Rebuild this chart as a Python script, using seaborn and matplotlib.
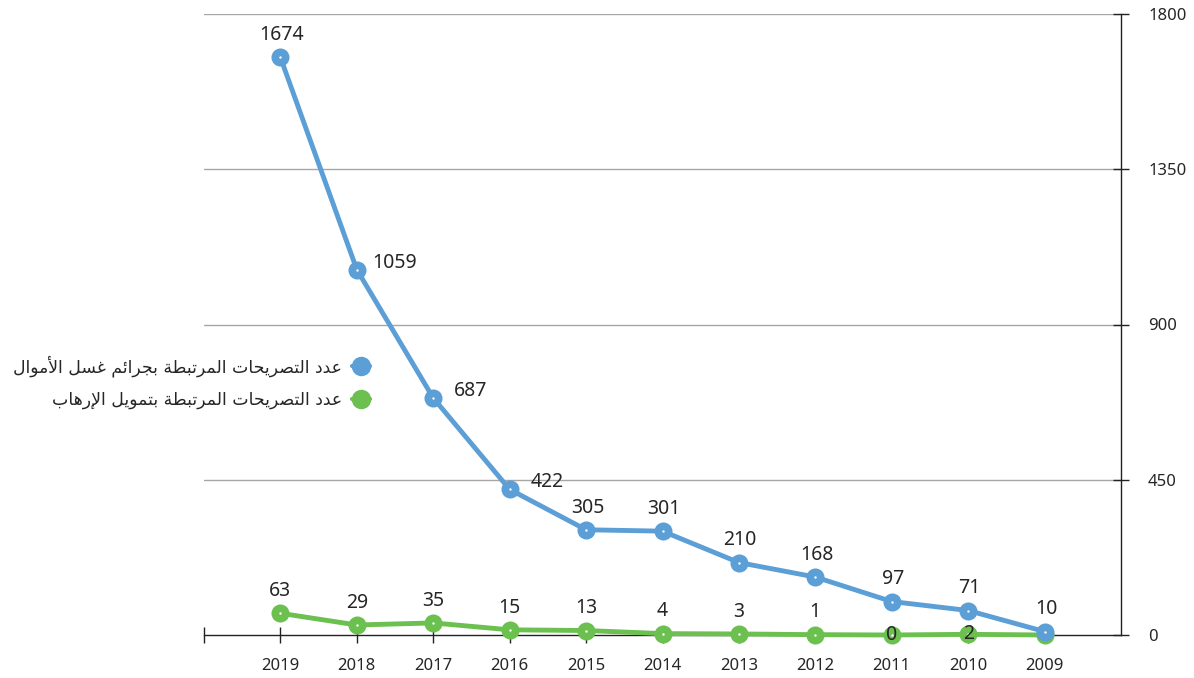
import matplotlib
matplotlib.use("Agg")
import matplotlib.pyplot as plt
from matplotlib.lines import Line2D
import seaborn as sns
import pandas as pd

# ---- data -------------------------------------------------------------
years = ["2019", "2018", "2017", "2016", "2015", "2014", "2013", "2012", "2011", "2010", "2009"]
laundering = [1674, 1059, 687, 422, 305, 301, 210, 168, 97, 71, 10]
terror_fin = [63, 29, 35, 15, 13, 4, 3, 1, 0, 2, 0]
series_names = ["عدد التصريحات المرتبطة بجرائم غسل الأموال",
                "عدد التصريحات المرتبطة بتمويل الإرهاب"]
y_ticks = [0, 450, 900, 1350, 1800]

BLUE = "#5b9fd6"
GREEN = "#6cc04f"
TEXT = "#262626"


# ---- minimal Arabic shaping (contextual forms + lam-alef, RTL order) ---
FORMS = {  # isolated, final, initial, medial
    "ا": ("\uFE8D", "\uFE8E", None, None),
    "أ": ("\uFE83", "\uFE84", None, None),
    "إ": ("\uFE87", "\uFE88", None, None),
    "ب": ("\uFE8F", "\uFE90", "\uFE91", "\uFE92"),
    "ة": ("\uFE93", "\uFE94", None, None),
    "ت": ("\uFE95", "\uFE96", "\uFE97", "\uFE98"),
    "ج": ("\uFE9D", "\uFE9E", "\uFE9F", "\uFEA0"),
    "ح": ("\uFEA1", "\uFEA2", "\uFEA3", "\uFEA4"),
    "د": ("\uFEA9", "\uFEAA", None, None),
    "ر": ("\uFEAD", "\uFEAE", None, None),
    "س": ("\uFEB1", "\uFEB2", "\uFEB3", "\uFEB4"),
    "ص": ("\uFEB9", "\uFEBA", "\uFEBB", "\uFEBC"),
    "ط": ("\uFEC1", "\uFEC2", "\uFEC3", "\uFEC4"),
    "ع": ("\uFEC9", "\uFECA", "\uFECB", "\uFECC"),
    "غ": ("\uFECD", "\uFECE", "\uFECF", "\uFED0"),
    "ل": ("\uFEDD", "\uFEDE", "\uFEDF", "\uFEE0"),
    "م": ("\uFEE1", "\uFEE2", "\uFEE3", "\uFEE4"),
    "ه": ("\uFEE9", "\uFEEA", "\uFEEB", "\uFEEC"),
    "و": ("\uFEED", "\uFEEE", None, None),
    "ي": ("\uFEF1", "\uFEF2", "\uFEF3", "\uFEF4"),
    "ئ": ("\uFE89", "\uFE8A", "\uFE8B", "\uFE8C"),
    "لا": ("\uFEFB", "\uFEFC", None, None),
    "لأ": ("\uFEF7", "\uFEF8", None, None),
    "لإ": ("\uFEF9", "\uFEFA", None, None),
}


def shape_arabic(text):
    tokens, i = [], 0
    while i < len(text):
        if text[i] == "ل" and i + 1 < len(text) and text[i + 1] in "اأإ":
            tokens.append(text[i:i + 2])
            i += 2
        else:
            tokens.append(text[i])
            i += 1

    def dual(t):
        return t in FORMS and FORMS[t][2] is not None

    out = []
    for k, t in enumerate(tokens):
        if t not in FORMS:
            out.append(t)
            continue
        prev_joins = k > 0 and dual(tokens[k - 1])
        next_joins = dual(t) and k + 1 < len(tokens) and tokens[k + 1] in FORMS
        iso, fin, ini, med = FORMS[t]
        if prev_joins and next_joins:
            out.append(med)
        elif prev_joins:
            out.append(fin)
        elif next_joins:
            out.append(ini)
        else:
            out.append(iso)
    return "".join(reversed(out))


# ---- frame ------------------------------------------------------------
positions = list(range(1, len(years) + 1))
df = pd.DataFrame({
    "pos": positions * 2,
    "value": laundering + terror_fin,
    "series": [series_names[0]] * len(years) + [series_names[1]] * len(years),
})

sns.set_theme(style="white")
plt.rcParams["font.family"] = ["Noto Sans", "DejaVu Sans"]

fig = plt.figure(figsize=(11.94, 6.78), dpi=100)
ax = fig.add_axes([204 / 1194, 43 / 678, (1121 - 204) / 1194, (635 - 14) / 678])

# green first so the blue series sits on top
for name, color, z in [(series_names[1], GREEN, 3), (series_names[0], BLUE, 4)]:
    sub = df[df["series"] == name]
    sns.lineplot(data=sub, x="pos", y="value", color=color, lw=3.5,
                 marker="o", markersize=13, markeredgewidth=0,
                 ax=ax, zorder=z, clip_on=False, legend=False)
    ax.scatter(sub["pos"], sub["value"], s=3, color="white", zorder=z + 0.5,
               clip_on=False, linewidths=0)

ax.set_xlim(0, len(years) + 1)
ax.set_ylim(0, 1800)

# ---- value labels -----------------------------------------------------
LABEL_FS = 14
right_side = {1, 2, 3}  # 2018, 2017, 2016 on the blue line
for i, (p, v) in enumerate(zip(positions, laundering)):
    if i in right_side:
        ax.annotate(str(v), (p, v), xytext=(27, 5), textcoords="offset points",
                    ha="center", va="center", fontsize=LABEL_FS, color=TEXT, zorder=6)
    else:
        ax.annotate(str(v), (p, v), xytext=(1, 16), textcoords="offset points",
                    ha="center", va="center", fontsize=LABEL_FS, color=TEXT, zorder=6)

for i, (p, v) in enumerate(zip(positions, terror_fin)):
    if years[i] == "2009":
        continue
    dy = 0 if years[i] in ("2011", "2010") else 16
    ax.annotate(str(v), (p, v), xytext=(0, dy), textcoords="offset points",
                ha="center", va="center", fontsize=LABEL_FS, color=TEXT, zorder=6)

# ---- axes styling -----------------------------------------------------
ax.set_xticks([0] + positions)
ax.set_xticklabels([""] + years, fontsize=12, color=TEXT)
ax.yaxis.tick_right()
ax.set_yticks(y_ticks)
ax.set_yticklabels([str(t) for t in y_ticks], fontsize=12, color=TEXT)
ax.set_xlabel("")
ax.set_ylabel("")

ax.tick_params(axis="x", direction="inout", length=11, width=1, color="#222222",
               pad=11, bottom=True)
ax.tick_params(axis="y", direction="inout", length=11, width=1, color="#222222",
               pad=14, right=True, left=False)

for side in ("left", "top"):
    ax.spines[side].set_visible(False)
for side in ("bottom", "right"):
    ax.spines[side].set_visible(True)
    ax.spines[side].set_color("#222222")
    ax.spines[side].set_linewidth(1)

for t in y_ticks[1:]:
    ax.axhline(t, color="#a6a6a6", lw=1, zorder=0)

# ---- legend -----------------------------------------------------------
handles = [Line2D([], [], color=BLUE, lw=3, marker="o", markersize=13),
           Line2D([], [], color=GREEN, lw=3, marker="o", markersize=13)]
labels = [shape_arabic(s) for s in series_names]
leg = fig.legend(handles, labels, loc="center right",
                 bbox_to_anchor=(385 / 1194, 1 - 382 / 678),
                 frameon=False, markerfirst=False, handlelength=1.0,
                 handletextpad=0.6, labelspacing=0.8,
                 prop={"family": ["DejaVu Sans"], "size": 12.4})
for txt in leg.get_texts():
    txt.set_color(TEXT)

fig.savefig("out.png", dpi=100)
